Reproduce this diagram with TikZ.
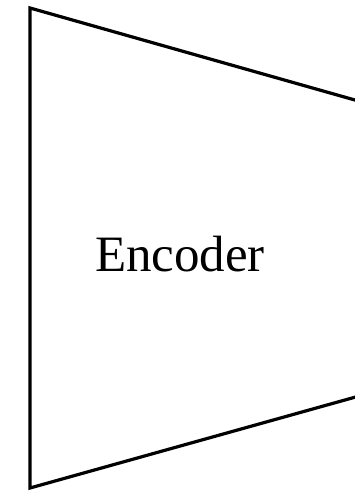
\documentclass[tikz,border=0pt]{standalone}
\usepackage{fontspec}
\setmainfont{Liberation Serif}
\begin{document}
\begin{tikzpicture}[x=1pt,y=1pt,line width=3.2pt,label/.style={font=\fontsize{51}{60}\selectfont}]
		\useasboundingbox (0,0) rectangle (355,492);
		\clip (0,0) rectangle (355,492);
		\coordinate (tl) at (30,484);
		\coordinate (bl) at (30,4);
		\coordinate (tr) at (375,386.3);
		\coordinate (br) at (375,100.4);
		
		\draw[line join=miter] (tr) -- (tl) -- (bl) -- (br);
		\node (enc) [label, anchor=base] at (180,220) {Encoder};
		\end{tikzpicture}
\end{document}
